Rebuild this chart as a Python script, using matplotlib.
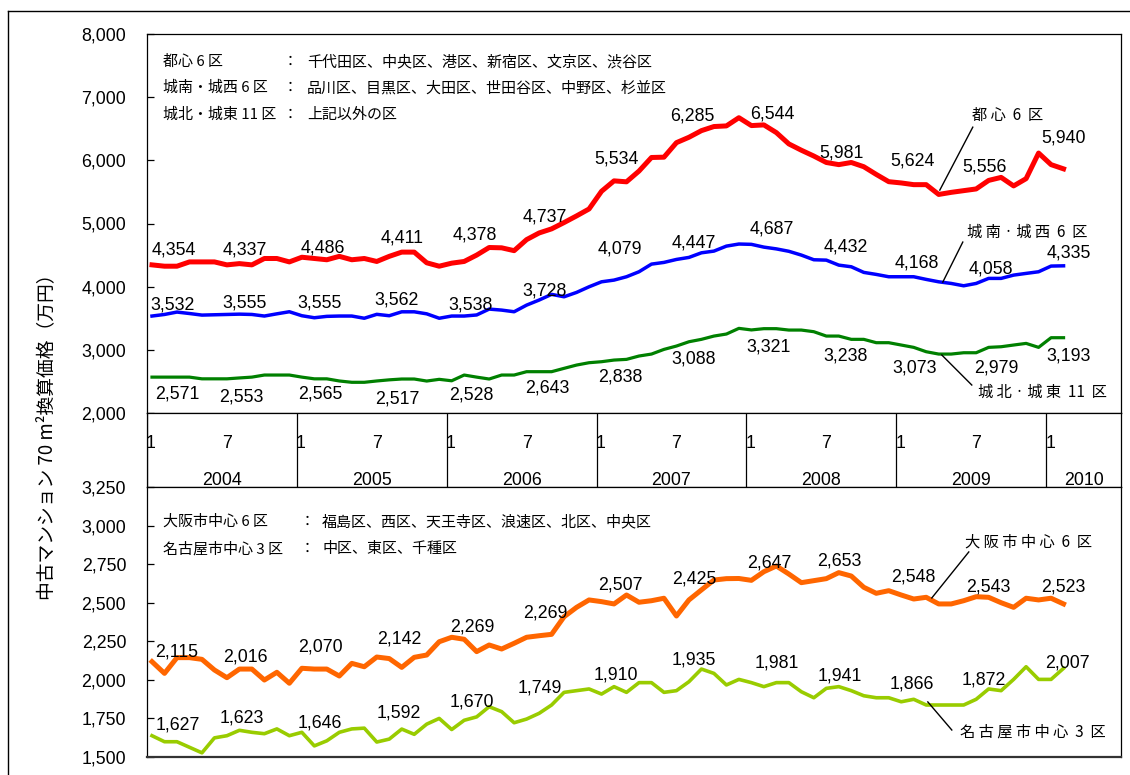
import matplotlib
matplotlib.use('Agg')
import matplotlib.pyplot as plt
import numpy as np
from matplotlib.lines import Line2D

plt.rcParams['font.family'] = ['Liberation Sans', 'Noto Sans CJK JP', 'DejaVu Sans']
CJK = ['Noto Sans CJK JP', 'DejaVu Sans']

# ---------------- data (monthly, Jan 2004 - Feb 2010) ----------------
years = ['2004', '2005', '2006', '2007', '2008', '2009', '2010']

toshin6 = [4345, 4324, 4324, 4392, 4392, 4392, 4345, 4365, 4345, 4446, 4446, 4392,
           4466, 4446, 4426, 4480, 4426, 4446, 4399, 4480, 4547, 4547, 4378, 4324,
           4372, 4399, 4500, 4620, 4615, 4570, 4745, 4850, 4915, 5015, 5120, 5230,
           5510, 5675, 5660, 5830, 6045, 6050, 6280, 6365, 6470, 6535, 6545, 6675,
           6550, 6561, 6439, 6260, 6160, 6068, 5966, 5932, 5966, 5899, 5777, 5662,
           5642, 5615, 5615, 5460, 5493, 5520, 5547, 5682, 5730, 5595, 5710, 6115,
           5932, 5865]
jonan6 = [3535, 3560, 3598, 3575, 3550, 3555, 3560, 3565, 3560, 3535, 3570, 3603,
          3540, 3508, 3530, 3535, 3535, 3500, 3562, 3540, 3602, 3602, 3570, 3500,
          3535, 3535, 3552, 3645, 3629, 3603, 3708, 3788, 3878, 3840, 3909, 3998,
          4077, 4104, 4157, 4236, 4357, 4384, 4431, 4463, 4536, 4563, 4642, 4675,
          4670, 4626, 4598, 4560, 4500, 4426, 4420, 4341, 4315, 4226, 4194, 4157,
          4157, 4157, 4115, 4077, 4051, 4014, 4051, 4131, 4131, 4183, 4210, 4236,
          4326, 4330]
johoku11 = [2568, 2568, 2568, 2568, 2541, 2541, 2541, 2555, 2568, 2601, 2601, 2601,
            2568, 2541, 2541, 2507, 2486, 2486, 2507, 2525, 2538, 2538, 2506, 2533,
            2510, 2601, 2568, 2538, 2601, 2601, 2654, 2654, 2654, 2707, 2759, 2796,
            2812, 2838, 2849, 2902, 2933, 3007, 3060, 3128, 3166, 3218, 3250, 3340,
            3315, 3335, 3335, 3313, 3313, 3287, 3218, 3218, 3166, 3166, 3113, 3113,
            3076, 3039, 2970, 2933, 2933, 2954, 2954, 3039, 3049, 3076, 3102, 3039,
            3192, 3192]
osaka6 = [2118, 2042, 2144, 2144, 2133, 2064, 2014, 2070, 2070, 1999, 2049, 1978,
          2075, 2070, 2070, 2025, 2107, 2085, 2148, 2138, 2081, 2146, 2161, 2247,
          2276, 2263, 2183, 2226, 2200, 2237, 2276, 2286, 2295, 2409, 2470, 2518,
          2507, 2492, 2550, 2503, 2513, 2529, 2414, 2518, 2583, 2647, 2656, 2657,
          2645, 2701, 2738, 2686, 2630, 2643, 2656, 2695, 2673, 2600, 2561, 2578,
          2550, 2524, 2535, 2492, 2492, 2513, 2539, 2535, 2500, 2470, 2529, 2518,
          2529, 2492]
nagoya3 = [1638, 1599, 1599, 1563, 1527, 1624, 1638, 1673, 1660, 1651, 1682, 1638,
           1660, 1572, 1605, 1660, 1682, 1687, 1597, 1616, 1681, 1647, 1713, 1750,
           1678, 1738, 1760, 1826, 1794, 1722, 1746, 1783, 1837, 1919, 1930, 1941,
           1908, 1956, 1919, 1982, 1982, 1919, 1930, 1988, 2070, 2042, 1967, 2003,
           1982, 1956, 1982, 1982, 1923, 1884, 1945, 1956, 1930, 1897, 1884, 1884,
           1858, 1874, 1837, 1837, 1837, 1837, 1874, 1941, 1930, 2003, 2085, 2003,
           2003, 2075]

# half-year value labels
lab_toshin = [4354, 4337, 4486, 4411, 4378, 4737, 5534, 6285, 6544, 5981, 5624, 5556, 5940]
lab_jonan = [3532, 3555, 3555, 3562, 3538, 3728, 4079, 4447, 4687, 4432, 4168, 4058, 4335]
lab_johoku = [2571, 2553, 2565, 2517, 2528, 2643, 2838, 3088, 3321, 3238, 3073, 2979, 3193]
lab_osaka = [2115, 2016, 2070, 2142, 2269, 2269, 2507, 2425, 2647, 2653, 2548, 2543, 2523]
lab_nagoya = [1627, 1623, 1646, 1592, 1670, 1749, 1910, 1935, 1981, 1941, 1866, 1872, 2007]

# label positions (x in months from Jan 2004, y in value units)
lx_toshin = [2.16, 7.85, 14.09, 20.42, 26.26, 31.87, 37.63, 43.63, 50.04, 55.64, 61.33, 67.09, 73.42]
ly_toshin = [4579, 4579, 4611, 4769, 4817, 5101, 6019, 6699, 6731, 6114, 5987, 5892, 6351]
lx_jonan = [2.08, 7.85, 13.85, 20.02, 25.94, 31.87, 37.87, 43.80, 50.04, 55.96, 61.65, 67.57, 73.82]
ly_jonan = [3709, 3741, 3741, 3788, 3709, 3930, 4595, 4690, 4911, 4627, 4373, 4279, 4532]
lx_johoku = [2.40, 7.53, 13.85, 20.02, 25.94, 32.03, 37.87, 43.80, 49.80, 55.96, 61.49, 68.05, 73.82]
ly_johoku = [2301, 2253, 2301, 2222, 2285, 2396, 2570, 2854, 3044, 2902, 2712, 2712, 2902]
lx_osaka = [2.40, 7.85, 13.85, 20.18, 26.02, 31.87, 37.87, 43.80, 49.80, 55.48, 61.33, 67.41, 73.42]
ly_osaka = [2181, 2148, 2213, 2265, 2343, 2433, 2615, 2654, 2758, 2770, 2667, 2602, 2602]
lx_nagoya = [2.48, 7.61, 13.85, 20.18, 26.02, 31.47, 37.55, 43.80, 50.44, 55.48, 61.25, 67.01, 73.74]
ly_nagoya = [1707, 1753, 1720, 1785, 1857, 1947, 2032, 2129, 2109, 2025, 1973, 1999, 2109]

# ---------------- figure ----------------
W, H = 1130, 775
fig = plt.figure(figsize=(W / 100, H / 100), dpi=100)
fig.patch.set_facecolor('white')


def fr(x0, y0, x1, y1):
    return [x0 / W, 1 - y1 / H, (x1 - x0) / W, (y1 - y0) / H]


ax_top = fig.add_axes(fr(147, 34, 1121, 413))
ax_band = fig.add_axes(fr(147, 413, 1121, 487))
ax_bot = fig.add_axes(fr(147, 487, 1121, 757))

XMAX = 78
x = np.arange(len(toshin6)) + 0.4

for ax in (ax_top, ax_band, ax_bot):
    ax.set_xlim(0, XMAX)
    ax.set_xticks([])
    for s in ax.spines.values():
        s.set_linewidth(0.9)
        s.set_color('black')

NUMFS = 12.8

# top panel
ax_top.plot(x, toshin6, color='#FF0000', lw=3.6)
ax_top.plot(x, jonan6, color='#0000FF', lw=2.5)
ax_top.plot(x, johoku11, color='#008000', lw=2.3)
ax_top.set_ylim(2000, 8000)
yt = list(range(2000, 8001, 1000))
ax_top.set_yticks(yt)
ax_top.set_yticklabels([f'{v:,}' for v in yt])

# bottom panel
ax_bot.plot(x, osaka6, color='#FF6600', lw=3.6)
ax_bot.plot(x, nagoya3, color='#99CC00', lw=2.6)
ax_bot.set_ylim(1500, 3250)
yb = list(range(1500, 3251, 250))
ax_bot.set_yticks(yb)
ax_bot.set_yticklabels([f'{v:,}' for v in yb])
ax_bot.spines['bottom'].set_linewidth(1.6)
ax_bot.spines['bottom'].set_color('#333333')

for ax in (ax_top, ax_bot):
    ax.tick_params(axis='y', direction='in', length=5, width=0.9, pad=15,
                   labelsize=NUMFS)
    for t in ax.get_yticklabels():
        t.set_family('Liberation Sans')

# value labels
for labs, lxs, lys, ax in ((lab_toshin, lx_toshin, ly_toshin, ax_top),
                           (lab_jonan, lx_jonan, ly_jonan, ax_top),
                           (lab_johoku, lx_johoku, ly_johoku, ax_top),
                           (lab_osaka, lx_osaka, ly_osaka, ax_bot),
                           (lab_nagoya, lx_nagoya, ly_nagoya, ax_bot)):
    for v, lx, ly in zip(labs, lxs, lys):
        ax.text(lx, ly, f'{v:,}', ha='center', va='center', fontsize=NUMFS,
                family='Liberation Sans')

# series names with leader lines
names = [
    (ax_top, '都 心  6  区', 68.93, 6715, (66.13, 63.49), (6525, 5529)),
    (ax_top, '城 南 · 城 西  6  区', 70.46, 4864, (65.33, 63.73), (4706, 4073)),
    (ax_top, '城 北 · 城 東  11  区', 71.74, 2332, (63.65, 66.05), (2918, 2443)),
    (ax_bot, '大 阪 市 中 心  6  区', 70.62, 2894, (65.81, 62.85), (2829, 2531)),
    (ax_bot, '名 古 屋 市 中 心  3  区', 70.94, 1662, (62.53, 64.45), (1857, 1675)),
]
for ax, t, tx, ty, lxs, lys in names:
    ax.text(tx, ty, t, ha='center', va='center', fontsize=11, family=CJK)
    ax.plot(lxs, lys, color='black', lw=1.0)

# band with months/years
ax_band.set_ylim(0, 1)
ax_band.set_yticks([])
for k in range(len(years)):
    ax_band.axvline(12 * k, color='black', lw=0.9)
    ax_band.text(12 * k + 0.32, 0.59, '1', ha='center', va='center', fontsize=NUMFS)
    if 12 * k + 6.4 < XMAX:
        ax_band.text(12 * k + 6.4, 0.59, '7', ha='center', va='center', fontsize=NUMFS)
    xc = 12 * k + 6 if 12 * k + 12 <= XMAX else (12 * k + XMAX) / 2
    ax_band.text(xc, 0.09, years[k], ha='center', va='center', fontsize=NUMFS)

# info blocks
def ftext(px, py, s, **kw):
    fig.text(px / W, 1 - py / H, s, va='center', fontsize=10.8, family=CJK, **kw)


ftext(163, 62, '都心 6 区')
ftext(163, 88, '城南・城西 6 区')
ftext(163, 115, '城北・城東 11 区')
for py in (62, 88, 115):
    ftext(283, py, '：')
ftext(307, 62, '千代田区、中央区、港区、新宿区、文京区、渋谷区')
ftext(307, 88, '品川区、目黒区、大田区、世田谷区、中野区、杉並区')
ftext(307, 115, '上記以外の区')

ftext(163, 522, '大阪市中心 6 区')
ftext(163, 549, '名古屋市中心 3 区')
for py in (522, 549):
    ftext(300, py, '：')
ftext(322, 522, '福島区、西区、天王寺区、浪速区、北区、中央区')
ftext(322, 549, '中区、東区、千種区')

# y label
fig.text(47 / W, 1 - 432 / H, '中古マンション 70 m²換算価格（万円）', rotation=90,
         ha='center', va='center', fontsize=13.5, family=CJK)

# outer frame
fig.add_artist(Line2D([8 / W, 1], [1 - 11 / H, 1 - 11 / H], transform=fig.transFigure,
                      color='black', lw=1.0))
fig.add_artist(Line2D([8 / W, 8 / W], [1 - 11 / H, 0], transform=fig.transFigure,
                      color='black', lw=1.0))

fig.savefig('out.png', dpi=100)
